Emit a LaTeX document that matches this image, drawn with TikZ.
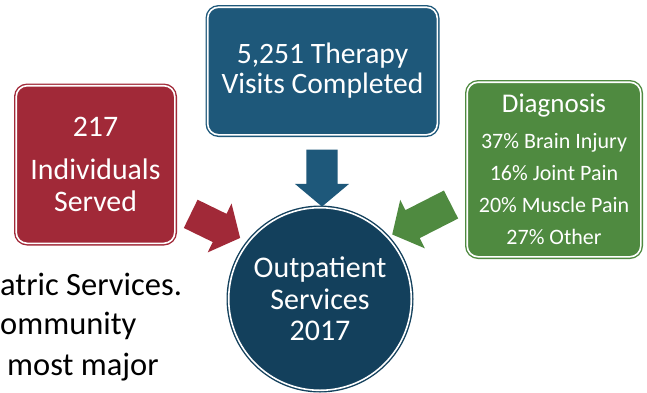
\documentclass[tikz,border=0pt]{standalone}
\usepackage{fontspec}
\setmainfont{Carlito}
\usetikzlibrary{shapes.arrows}

\definecolor{servred}{HTML}{A12938}
\definecolor{visitblue}{HTML}{1E587A}
\definecolor{hubblue}{HTML}{13405C}
\definecolor{diaggreen}{HTML}{4F8A40}

\begin{document}
\begin{tikzpicture}[x=1pt,y=-1pt,
  card/.style={rectangle,rounded corners=11pt,draw=#1,fill=#1,double=white,double distance=1.6pt,line width=1.4pt,
    text=white,align=center,inner sep=0pt},
  hub/.style={circle,draw=hubblue,fill=hubblue,double=white,double distance=1.6pt,line width=1.4pt,
    text=white,align=center,inner sep=0pt,minimum size=182.6pt},
  blk/.style={single arrow,fill=#1,draw=none,inner xsep=0pt,inner ysep=15.5pt,
    single arrow head extend=11.5pt,single arrow tip angle=100,minimum width=0pt},
  body/.style={anchor=base west,inner sep=0pt,font=\fontsize{32.5}{38}\selectfont}]
  \useasboundingbox (0,0) rectangle (647,392);

  % text of the page behind the chart
  \node[body] (line1) at (0,295) {atric Services.};
  \node[body] (line2) at (0,334) {ommunity};
  \node[body] (line3) at (7,375) {most major};

  % the four blocks
  \node[hub,font=\fontsize{30}{31.5}\selectfont] (hub) at (320,299) {Outpatient\\Services\\2017};
  \node[card=servred,minimum width=158.6pt,minimum height=157.6pt,font=\fontsize{29.8}{32}\selectfont] (served) at (95.5,164.5)
    {217\\[11pt]Individuals\\Served};
  \node[card=visitblue,minimum width=229.6pt,minimum height=127.6pt,font=\fontsize{29.6}{30}\selectfont] (visits) at (322.5,71)
    {5,251 Therapy\\Visits Completed};
  \node[card=diaggreen,minimum width=173.6pt,minimum height=174.6pt,font=\fontsize{22}{32}\selectfont] (diag) at (554,169.5)
    {{\fontsize{27}{32}\selectfont Diagnosis}\\[4pt]37\% Brain Injury\\16\% Joint Pain\\20\% Muscle Pain\\27\% Other};

  % block arrows into the hub
  \node[blk=visitblue,minimum height=57pt,rotate=-90] (arrV) at (322,171.5) {};
  \node[blk=servred,minimum height=55pt,rotate=-26] (arrS) at (209.5,223) {};
  \node[blk=diaggreen,minimum height=66pt,rotate=207] (arrD) at (427.5,216.5) {};
\end{tikzpicture}
\end{document}
